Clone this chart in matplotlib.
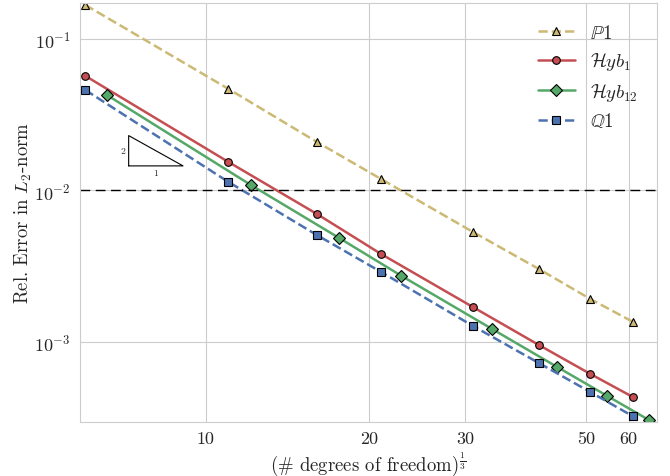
import numpy as np
import matplotlib
matplotlib.use("Agg")
import matplotlib.pyplot as plt
import seaborn as sns

sns.set_style("whitegrid")
plt.rcParams['font.family'] = 'serif'
plt.rcParams['font.serif'] = ['cmr10']
plt.rcParams['mathtext.fontset'] = 'cm'
plt.rcParams['axes.formatter.use_mathtext'] = True

# (# dofs)^(1/3) y error relativo de cada metodo
x_p1 = [6, 11, 16, 21, 31, 41, 51, 61]
err_p1 = [0.1675, 0.0468, 0.0209, 0.0119, 0.00532, 0.00303, 0.00192, 0.00136]

x_hyb1 = [6, 11, 16, 21, 31, 41, 51, 61]
err_hyb1 = [0.0570, 0.01542, 0.0070, 0.00381, 0.00170, 0.000955, 0.000615, 0.000434]

x_hyb12 = [6.57, 12.1, 17.6, 22.9, 33.6, 44.3, 54.8, 65.4]
err_hyb12 = [0.0427, 0.01086, 0.00485, 0.00273, 0.00122, 0.000684, 0.000440, 0.000305]

x_q1 = [6, 11, 16, 21, 31, 41, 51, 61]
err_q1 = [0.0460, 0.01138, 0.00508, 0.00290, 0.001276, 0.000726, 0.000467, 0.000324]

tolerancia = 1e-2
xticks = [10, 20, 30, 50, 60]

fig = plt.figure(figsize=(6.7, 4.77), dpi=100)
ax = fig.add_axes([0.119, 0.113, 0.862, 0.879])

ax.loglog(x_p1, err_p1, '--^', color='#CCB974', mec='k', mew=0.8, ms=6, lw=1.8, label=r'$\mathbb{P}1$')
ax.loglog(x_hyb1, err_hyb1, '-o', color='#C44E52', mec='k', mew=0.8, ms=5.5, lw=1.8, label=r'$\mathcal{H}yb_1$')
ax.loglog(x_hyb12, err_hyb12, '-D', color='#55A868', mec='k', mew=0.8, ms=6, lw=1.8, label=r'$\mathcal{H}yb_{12}$')
ax.loglog(x_q1, err_q1, '--s', color='#4C72B0', mec='k', mew=0.8, ms=6, lw=1.8, label=r'$\mathbb{Q}1$')

ax.axhline(tolerancia, color='k', ls='--', lw=1.0, dashes=(7, 4))

# triangulo de pendiente 2
tx0, ty0, dec = 7.21, 0.01452, 0.1
tx1 = tx0 * 10**dec
ty1 = ty0 * 10**(2 * dec)
ax.plot([tx0, tx1, tx0, tx0], [ty0, ty0, ty1, ty0], color='k', lw=0.8)
ax.text(tx0 * 0.985, np.sqrt(ty0 * ty1), '2', ha='right', va='center', fontsize=7)
ax.text(np.sqrt(tx0 * tx1), ty0 * 0.96, '1', ha='center', va='top', fontsize=7)

ax.set_xlim(5.86, 67.7)
ax.set_ylim(2.96e-4, 0.173)
ax.set_xticks(xticks)
ax.set_xticklabels([str(t) for t in xticks])
ax.minorticks_off()
ax.tick_params(labelsize=13, pad=3)

ax.set_xlabel(r'(# degrees of freedom)$^{\frac{1}{3}}$', fontsize=13.5, labelpad=2)
ax.set_ylabel(r'Rel. Error in $L_2$-norm', fontsize=13.5, labelpad=0)
ax.legend(loc='upper right', frameon=False, fontsize=13.5, handlelength=2.0,
          labelspacing=0.45, bbox_to_anchor=(0.995, 0.99))

fig.savefig('out.png', dpi=100)
